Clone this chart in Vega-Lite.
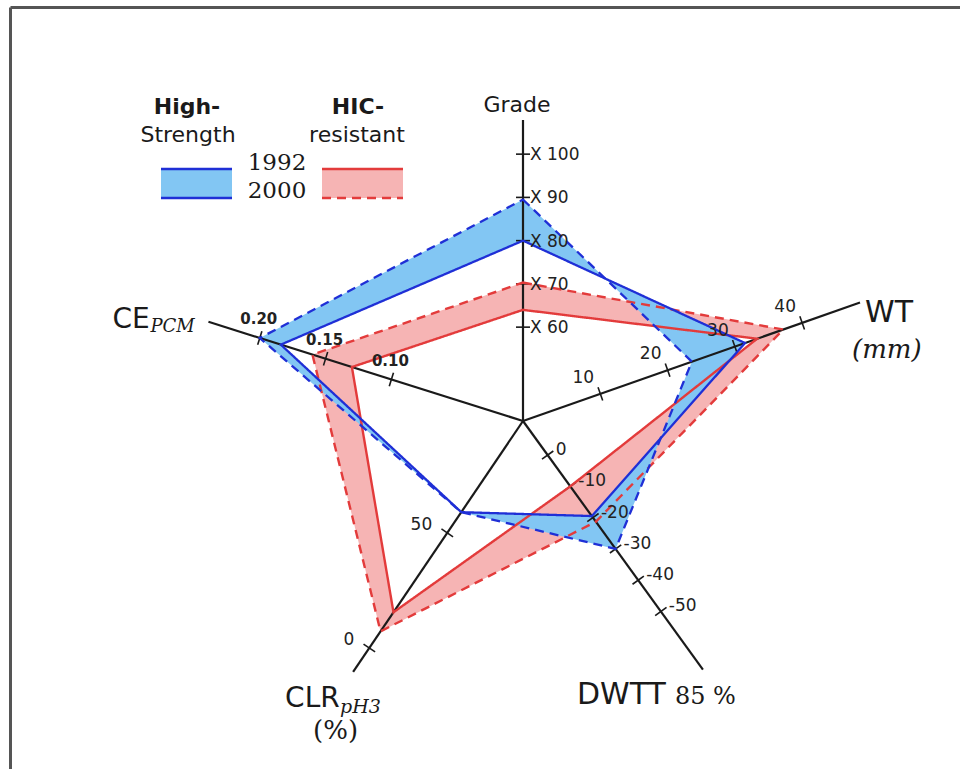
{
  "$schema": "https://vega.github.io/schema/vega-lite/v6.json",
  "width": 950,
  "height": 762,
  "autosize": {"type": "none"},
  "padding": {"left": 10, "top": 7, "right": 0, "bottom": 0},
  "background": "white",
  "view": {"stroke": null},
  "config": {"axis": {"domainColor": "#555555", "domainWidth": 3, "ticks": false, "labels": false, "grid": false}},
  "datasets": {
    "axes": [
      {"axis": "Grade", "idx": 0, "angle": 90, "v0": 38.3, "k": 4.325, "vend": 107.9},
      {"axis": "WT", "idx": 1, "angle": 19.36, "v0": -1.5, "k": 7.13, "vend": 48.6},
      {"axis": "DWTT", "idx": 2, "angle": -54.1, "v0": 10.9, "k": -3.86, "vend": -68.6},
      {"axis": "CLR", "idx": 3, "angle": -124.1, "v0": 98.6, "k": -2.78, "vend": -10.4},
      {"axis": "CE", "idx": 4, "angle": 162.5, "v0": 0, "k": 1380, "vend": 0.239}
    ],
    "vertices": [
      {"group": "HS", "year": 1992, "axis": "Grade", "value": 80},
      {"group": "HS", "year": 1992, "axis": "WT", "value": 31.5},
      {"group": "HS", "year": 1992, "axis": "DWTT", "value": -19.5},
      {"group": "HS", "year": 1992, "axis": "CLR", "value": 59},
      {"group": "HS", "year": 1992, "axis": "CE", "value": 0.184},
      {"group": "HS", "year": 2000, "axis": "Grade", "value": 89.5},
      {"group": "HS", "year": 2000, "axis": "WT", "value": 23.6},
      {"group": "HS", "year": 2000, "axis": "DWTT", "value": -30},
      {"group": "HS", "year": 2000, "axis": "CLR", "value": 59},
      {"group": "HS", "year": 2000, "axis": "CE", "value": 0.2},
      {"group": "HIC", "year": 1992, "axis": "Grade", "value": 64},
      {"group": "HIC", "year": 1992, "axis": "WT", "value": 33.3},
      {"group": "HIC", "year": 1992, "axis": "DWTT", "value": -10},
      {"group": "HIC", "year": 1992, "axis": "CLR", "value": 15.5},
      {"group": "HIC", "year": 1992, "axis": "CE", "value": 0.13},
      {"group": "HIC", "year": 2000, "axis": "Grade", "value": 70.3},
      {"group": "HIC", "year": 2000, "axis": "WT", "value": 37.2},
      {"group": "HIC", "year": 2000, "axis": "DWTT", "value": -21.3},
      {"group": "HIC", "year": 2000, "axis": "CLR", "value": 7.2},
      {"group": "HIC", "year": 2000, "axis": "CE", "value": 0.16}
    ],
    "ticks": [
      {"axis": "Grade", "value": 60, "label": "X 60"},
      {"axis": "Grade", "value": 70, "label": "X 70"},
      {"axis": "Grade", "value": 80, "label": "X 80"},
      {"axis": "Grade", "value": 90, "label": "X 90"},
      {"axis": "Grade", "value": 100, "label": "X 100"},
      {"axis": "WT", "value": 10, "label": "10"},
      {"axis": "WT", "value": 20, "label": "20"},
      {"axis": "WT", "value": 30, "label": "30"},
      {"axis": "WT", "value": 40, "label": "40"},
      {"axis": "DWTT", "value": 0, "label": "0"},
      {"axis": "DWTT", "value": -10, "label": "-10"},
      {"axis": "DWTT", "value": -20, "label": "-20"},
      {"axis": "DWTT", "value": -30, "label": "-30"},
      {"axis": "DWTT", "value": -40, "label": "-40"},
      {"axis": "DWTT", "value": -50, "label": "-50"},
      {"axis": "CLR", "value": 0, "label": "0"},
      {"axis": "CLR", "value": 50, "label": "50"},
      {"axis": "CE", "value": 0.1, "label": "0.10"},
      {"axis": "CE", "value": 0.15, "label": "0.15"},
      {"axis": "CE", "value": 0.2, "label": "0.20"}
    ]
  },
  "layer": [
    {
      "data": {"name": "vertices"},
      "transform": [
        {"lookup": "axis", "from": {"data": {"name": "axes"}, "key": "axis", "fields": ["idx", "angle", "v0", "k"]}},
        {"calculate": "(datum.value - datum.v0) * datum.k", "as": "r"},
        {"calculate": "datum.r * cos(datum.angle * PI / 180)", "as": "x"},
        {"calculate": "datum.r * sin(datum.angle * PI / 180)", "as": "y"},
        {"calculate": "[0, 1]", "as": "qp"},
        {"flatten": ["qp"]},
        {"calculate": "(datum.idx - datum.qp + 5) % 5", "as": "edge"},
        {"calculate": "datum.year == 1992 ? (datum.qp == 0 ? 1 : 2) : (datum.qp == 0 ? 4 : 3)", "as": "ord"},
        {"filter": "datum.group == 'HIC'"}
      ],
      "mark": {"type": "line", "interpolate": "linear-closed", "fill": "#f6b4b4", "strokeWidth": 0, "strokeOpacity": 0},
      "encoding": {
        "x": {"field": "x", "type": "quantitative", "scale": {"domain": [-513, 437], "nice": false, "zero": false}, "axis": {"orient": "top", "title": null}},
        "y": {"field": "y", "type": "quantitative", "scale": {"domain": [-348, 414], "nice": false, "zero": false}, "axis": {"title": null}},
        "detail": {"field": "edge"},
        "order": {"field": "ord", "type": "quantitative"}
      }
    },
    {
      "data": {"name": "vertices"},
      "transform": [
        {"lookup": "axis", "from": {"data": {"name": "axes"}, "key": "axis", "fields": ["idx", "angle", "v0", "k"]}},
        {"calculate": "(datum.value - datum.v0) * datum.k", "as": "r"},
        {"calculate": "datum.r * cos(datum.angle * PI / 180)", "as": "x"},
        {"calculate": "datum.r * sin(datum.angle * PI / 180)", "as": "y"},
        {"calculate": "[0, 1]", "as": "qp"},
        {"flatten": ["qp"]},
        {"calculate": "(datum.idx - datum.qp + 5) % 5", "as": "edge"},
        {"calculate": "datum.year == 1992 ? (datum.qp == 0 ? 1 : 2) : (datum.qp == 0 ? 4 : 3)", "as": "ord"},
        {"filter": "datum.group == 'HS'"}
      ],
      "mark": {"type": "line", "interpolate": "linear-closed", "fill": "#82c6f3", "strokeWidth": 0, "strokeOpacity": 0},
      "encoding": {
        "x": {"field": "x", "type": "quantitative", "scale": {"domain": [-513, 437], "nice": false, "zero": false}, "axis": {"orient": "top", "title": null}},
        "y": {"field": "y", "type": "quantitative", "scale": {"domain": [-348, 414], "nice": false, "zero": false}, "axis": {"title": null}},
        "detail": {"field": "edge"},
        "order": {"field": "ord", "type": "quantitative"}
      }
    },
    {
      "data": {"name": "axes"},
      "transform": [
        {"calculate": "(datum.vend - datum.v0) * datum.k", "as": "r"},
        {"calculate": "datum.r * cos(datum.angle * PI / 180)", "as": "x2"},
        {"calculate": "datum.r * sin(datum.angle * PI / 180)", "as": "y2"},
        {"calculate": "0", "as": "x"},
        {"calculate": "0", "as": "y"}
      ],
      "mark": {"type": "rule", "color": "#1a1a1a", "strokeWidth": 2.2},
      "encoding": {
        "x": {"field": "x", "type": "quantitative", "scale": {"domain": [-513, 437], "nice": false, "zero": false}, "axis": {"orient": "top", "title": null}},
        "y": {"field": "y", "type": "quantitative", "scale": {"domain": [-348, 414], "nice": false, "zero": false}, "axis": {"title": null}},
        "x2": {"field": "x2"},
        "y2": {"field": "y2"}
      }
    },
    {
      "data": {"name": "ticks"},
      "transform": [
        {"lookup": "axis", "from": {"data": {"name": "axes"}, "key": "axis", "fields": ["angle", "v0", "k"]}},
        {"calculate": "(datum.value - datum.v0) * datum.k", "as": "r"},
        {"calculate": "datum.angle * PI / 180", "as": "a"},
        {"calculate": "datum.r * cos(datum.a) - 7 * sin(datum.a)", "as": "x"},
        {"calculate": "datum.r * sin(datum.a) + 7 * cos(datum.a)", "as": "y"},
        {"calculate": "datum.r * cos(datum.a) + 7 * sin(datum.a)", "as": "x2"},
        {"calculate": "datum.r * sin(datum.a) - 7 * cos(datum.a)", "as": "y2"}
      ],
      "mark": {"type": "rule", "color": "#1a1a1a", "strokeWidth": 1.6},
      "encoding": {
        "x": {"field": "x", "type": "quantitative", "scale": {"domain": [-513, 437], "nice": false, "zero": false}, "axis": {"orient": "top", "title": null}},
        "y": {"field": "y", "type": "quantitative", "scale": {"domain": [-348, 414], "nice": false, "zero": false}, "axis": {"title": null}},
        "x2": {"field": "x2"},
        "y2": {"field": "y2"}
      }
    },
    {
      "data": {"name": "vertices"},
      "transform": [
        {"lookup": "axis", "from": {"data": {"name": "axes"}, "key": "axis", "fields": ["idx", "angle", "v0", "k"]}},
        {"calculate": "(datum.value - datum.v0) * datum.k", "as": "r"},
        {"calculate": "datum.r * cos(datum.angle * PI / 180)", "as": "x"},
        {"calculate": "datum.r * sin(datum.angle * PI / 180)", "as": "y"},
        {"filter": "datum.group == 'HIC'"}
      ],
      "mark": {"type": "line", "interpolate": "linear-closed", "color": "#e33b3b", "strokeWidth": 2.4},
      "encoding": {
        "x": {"field": "x", "type": "quantitative", "scale": {"domain": [-513, 437], "nice": false, "zero": false}, "axis": {"orient": "top", "title": null}},
        "y": {"field": "y", "type": "quantitative", "scale": {"domain": [-348, 414], "nice": false, "zero": false}, "axis": {"title": null}},
        "detail": {"field": "year"},
        "order": {"field": "idx", "type": "quantitative"},
        "strokeDash": {"field": "year", "type": "nominal", "scale": {"domain": [1992, 2000], "range": [[1, 0], [9, 6]]}, "legend": null}
      }
    },
    {
      "data": {"name": "vertices"},
      "transform": [
        {"lookup": "axis", "from": {"data": {"name": "axes"}, "key": "axis", "fields": ["idx", "angle", "v0", "k"]}},
        {"calculate": "(datum.value - datum.v0) * datum.k", "as": "r"},
        {"calculate": "datum.r * cos(datum.angle * PI / 180)", "as": "x"},
        {"calculate": "datum.r * sin(datum.angle * PI / 180)", "as": "y"},
        {"filter": "datum.group == 'HS'"}
      ],
      "mark": {"type": "line", "interpolate": "linear-closed", "color": "#1f2fd6", "strokeWidth": 2.3},
      "encoding": {
        "x": {"field": "x", "type": "quantitative", "scale": {"domain": [-513, 437], "nice": false, "zero": false}, "axis": {"orient": "top", "title": null}},
        "y": {"field": "y", "type": "quantitative", "scale": {"domain": [-348, 414], "nice": false, "zero": false}, "axis": {"title": null}},
        "detail": {"field": "year"},
        "order": {"field": "idx", "type": "quantitative"},
        "strokeDash": {"field": "year", "type": "nominal", "scale": {"domain": [1992, 2000], "range": [[1, 0], [1.5, 1.8]]}, "legend": null}
      }
    },
    {
      "data": {"name": "ticks"},
      "transform": [
        {"filter": "datum.axis == 'Grade'"},
        {"lookup": "axis", "from": {"data": {"name": "axes"}, "key": "axis", "fields": ["angle", "v0", "k"]}},
        {"calculate": "(datum.value - datum.v0) * datum.k", "as": "r"},
        {"calculate": "datum.r * cos(datum.angle * PI / 180)", "as": "x"},
        {"calculate": "datum.r * sin(datum.angle * PI / 180)", "as": "y"}
      ],
      "mark": {"type": "text", "align": "left", "baseline": "middle", "dx": 7, "dy": 1, "font": "DejaVu Sans", "fontSize": 17, "color": "#222222"},
      "encoding": {
        "x": {"field": "x", "type": "quantitative", "scale": {"domain": [-513, 437], "nice": false, "zero": false}, "axis": {"orient": "top", "title": null}},
        "y": {"field": "y", "type": "quantitative", "scale": {"domain": [-348, 414], "nice": false, "zero": false}, "axis": {"title": null}},
        "text": {"field": "label"}
      }
    },
    {
      "data": {"name": "ticks"},
      "transform": [
        {"filter": "datum.axis == 'WT'"},
        {"lookup": "axis", "from": {"data": {"name": "axes"}, "key": "axis", "fields": ["angle", "v0", "k"]}},
        {"calculate": "(datum.value - datum.v0) * datum.k", "as": "r"},
        {"calculate": "datum.r * cos(datum.angle * PI / 180)", "as": "x"},
        {"calculate": "datum.r * sin(datum.angle * PI / 180)", "as": "y"}
      ],
      "mark": {"type": "text", "align": "center", "baseline": "middle", "dx": -17, "dy": -16, "font": "DejaVu Sans", "fontSize": 17, "color": "#222222"},
      "encoding": {
        "x": {"field": "x", "type": "quantitative", "scale": {"domain": [-513, 437], "nice": false, "zero": false}, "axis": {"orient": "top", "title": null}},
        "y": {"field": "y", "type": "quantitative", "scale": {"domain": [-348, 414], "nice": false, "zero": false}, "axis": {"title": null}},
        "text": {"field": "label"}
      }
    },
    {
      "data": {"name": "ticks"},
      "transform": [
        {"filter": "datum.axis == 'DWTT'"},
        {"lookup": "axis", "from": {"data": {"name": "axes"}, "key": "axis", "fields": ["angle", "v0", "k"]}},
        {"calculate": "(datum.value - datum.v0) * datum.k", "as": "r"},
        {"calculate": "datum.r * cos(datum.angle * PI / 180)", "as": "x"},
        {"calculate": "datum.r * sin(datum.angle * PI / 180)", "as": "y"}
      ],
      "mark": {"type": "text", "align": "left", "baseline": "middle", "dx": 8, "dy": -5, "font": "DejaVu Sans", "fontSize": 17, "color": "#222222"},
      "encoding": {
        "x": {"field": "x", "type": "quantitative", "scale": {"domain": [-513, 437], "nice": false, "zero": false}, "axis": {"orient": "top", "title": null}},
        "y": {"field": "y", "type": "quantitative", "scale": {"domain": [-348, 414], "nice": false, "zero": false}, "axis": {"title": null}},
        "text": {"field": "label"}
      }
    },
    {
      "data": {"name": "ticks"},
      "transform": [
        {"filter": "datum.axis == 'CLR'"},
        {"lookup": "axis", "from": {"data": {"name": "axes"}, "key": "axis", "fields": ["angle", "v0", "k"]}},
        {"calculate": "(datum.value - datum.v0) * datum.k", "as": "r"},
        {"calculate": "datum.r * cos(datum.angle * PI / 180)", "as": "x"},
        {"calculate": "datum.r * sin(datum.angle * PI / 180)", "as": "y"}
      ],
      "mark": {"type": "text", "align": "right", "baseline": "middle", "dx": -15, "dy": -8, "font": "DejaVu Sans", "fontSize": 17, "color": "#222222"},
      "encoding": {
        "x": {"field": "x", "type": "quantitative", "scale": {"domain": [-513, 437], "nice": false, "zero": false}, "axis": {"orient": "top", "title": null}},
        "y": {"field": "y", "type": "quantitative", "scale": {"domain": [-348, 414], "nice": false, "zero": false}, "axis": {"title": null}},
        "text": {"field": "label"}
      }
    },
    {
      "data": {"name": "ticks"},
      "transform": [
        {"filter": "datum.axis == 'CE'"},
        {"lookup": "axis", "from": {"data": {"name": "axes"}, "key": "axis", "fields": ["angle", "v0", "k"]}},
        {"calculate": "(datum.value - datum.v0) * datum.k", "as": "r"},
        {"calculate": "datum.r * cos(datum.angle * PI / 180)", "as": "x"},
        {"calculate": "datum.r * sin(datum.angle * PI / 180)", "as": "y"}
      ],
      "mark": {"type": "text", "align": "center", "baseline": "middle", "dx": -1, "dy": -19, "font": "DejaVu Sans", "fontSize": 15, "fontWeight": "bold", "color": "#222222"},
      "encoding": {
        "x": {"field": "x", "type": "quantitative", "scale": {"domain": [-513, 437], "nice": false, "zero": false}, "axis": {"orient": "top", "title": null}},
        "y": {"field": "y", "type": "quantitative", "scale": {"domain": [-348, 414], "nice": false, "zero": false}, "axis": {"title": null}},
        "text": {"field": "label"}
      }
    },
    {
      "data": {"name": "axes"},
      "transform": [
        {"calculate": "(datum.vend - datum.v0) * datum.k", "as": "r"},
        {"calculate": "datum.r * cos(datum.angle * PI / 180)", "as": "x"},
        {"calculate": "datum.r * sin(datum.angle * PI / 180)", "as": "y"}
      ],
      "layer": [
        {
          "transform": [{"filter": "datum.axis == 'Grade'"}],
          "mark": {"type": "text", "align": "center", "baseline": "middle", "dx": -6, "dy": -15, "font": "DejaVu Sans", "fontSize": 22, "color": "#1a1a1a"},
          "encoding": {"text": {"field": "axis"}}
        },
        {
          "transform": [{"filter": "datum.axis == 'WT'"}],
          "mark": {"type": "text", "align": "left", "baseline": "middle", "dx": 5, "dy": 10, "font": "DejaVu Sans", "fontSize": 30, "color": "#1a1a1a"},
          "encoding": {"text": {"field": "axis"}}
        },
        {
          "transform": [{"filter": "datum.axis == 'WT'"}],
          "mark": {"type": "text", "align": "left", "baseline": "middle", "dx": -8, "dy": 47, "font": "DejaVu Serif", "fontStyle": "italic", "fontSize": 26, "color": "#1a1a1a", "text": "(mm)"},
          "encoding": {}
        },
        {
          "transform": [{"filter": "datum.axis == 'DWTT'"}],
          "mark": {"type": "text", "align": "left", "baseline": "middle", "dx": -126, "dy": 25, "font": "DejaVu Sans", "fontSize": 30, "color": "#1a1a1a"},
          "encoding": {"text": {"field": "axis"}}
        },
        {
          "transform": [{"filter": "datum.axis == 'DWTT'"}],
          "mark": {"type": "text", "align": "left", "baseline": "middle", "dx": -28, "dy": 27, "font": "DejaVu Serif", "fontSize": 24, "color": "#1a1a1a", "text": "85 %"},
          "encoding": {}
        },
        {
          "transform": [{"filter": "datum.axis == 'CLR'"}],
          "mark": {"type": "text", "align": "left", "baseline": "middle", "dx": -68, "dy": 27, "font": "DejaVu Sans", "fontSize": 28, "color": "#1a1a1a"},
          "encoding": {"text": {"field": "axis"}}
        },
        {
          "transform": [{"filter": "datum.axis == 'CLR'"}],
          "mark": {"type": "text", "align": "left", "baseline": "middle", "dx": -13, "dy": 35, "font": "DejaVu Serif", "fontStyle": "italic", "fontSize": 19, "color": "#1a1a1a", "text": "pH3"},
          "encoding": {}
        },
        {
          "transform": [{"filter": "datum.axis == 'CLR'"}],
          "mark": {"type": "text", "align": "left", "baseline": "middle", "dx": -40, "dy": 59, "font": "DejaVu Serif", "fontSize": 26, "color": "#1a1a1a", "text": "(%)"},
          "encoding": {}
        },
        {
          "transform": [{"filter": "datum.axis == 'CE'"}],
          "mark": {"type": "text", "align": "left", "baseline": "middle", "dx": -96, "dy": -2, "font": "DejaVu Sans", "fontSize": 28, "color": "#1a1a1a"},
          "encoding": {"text": {"field": "axis"}}
        },
        {
          "transform": [{"filter": "datum.axis == 'CE'"}],
          "mark": {"type": "text", "align": "left", "baseline": "middle", "dx": -58, "dy": 5, "font": "DejaVu Serif", "fontStyle": "italic", "fontSize": 18, "color": "#1a1a1a", "text": "PCM"},
          "encoding": {}
        }
      ],
      "encoding": {
        "x": {"field": "x", "type": "quantitative", "scale": {"domain": [-513, 437], "nice": false, "zero": false}, "axis": {"orient": "top", "title": null}},
        "y": {"field": "y", "type": "quantitative", "scale": {"domain": [-348, 414], "nice": false, "zero": false}, "axis": {"title": null}}
      }
    },
    {
      "data": {"values": [{"group": "HS", "x": -362, "x2": -291}, {"group": "HIC", "x": -201, "x2": -120}]},
      "layer": [
        {
          "mark": {"type": "rect"},
          "encoding": {
            "y": {"datum": 252, "type": "quantitative", "scale": {"domain": [-348, 414], "nice": false, "zero": false}, "axis": {"title": null}},
            "y2": {"datum": 223},
            "x2": {"field": "x2"},
            "color": {"field": "group", "type": "nominal", "scale": {"domain": ["HS", "HIC"], "range": ["#82c6f3", "#f6b4b4"]}, "legend": null}
          }
        },
        {
          "mark": {"type": "rule", "strokeWidth": 2.4},
          "encoding": {
            "y": {"datum": 252, "type": "quantitative", "scale": {"domain": [-348, 414], "nice": false, "zero": false}, "axis": {"title": null}},
            "x2": {"field": "x2"},
            "color": {"field": "group", "type": "nominal", "scale": {"domain": ["HS", "HIC"], "range": ["#1f2fd6", "#e33b3b"]}, "legend": null}
          }
        },
        {
          "mark": {"type": "rule", "strokeWidth": 2.3},
          "encoding": {
            "y": {"datum": 223, "type": "quantitative", "scale": {"domain": [-348, 414], "nice": false, "zero": false}, "axis": {"title": null}},
            "x2": {"field": "x2"},
            "color": {"field": "group", "type": "nominal", "scale": {"domain": ["HS", "HIC"], "range": ["#1f2fd6", "#e33b3b"]}, "legend": null},
            "strokeDash": {"field": "group", "type": "nominal", "scale": {"domain": ["HS", "HIC"], "range": [[1.5, 1.8], [9, 6]]}, "legend": null}
          }
        }
      ],
      "encoding": {
        "x": {"field": "x", "type": "quantitative", "scale": {"domain": [-513, 437], "nice": false, "zero": false}, "axis": {"orient": "top", "title": null}}
      },
      "resolve": {"scale": {"color": "independent"}}
    },
    {
      "data": {"values": [
        {"t": "High-", "x": -336, "y": 307},
        {"t": "HIC-", "x": -165, "y": 307}
      ]},
      "mark": {"type": "text", "align": "center", "baseline": "alphabetic", "font": "DejaVu Sans", "fontSize": 22, "fontWeight": "bold", "color": "#1a1a1a"},
      "encoding": {
        "x": {"field": "x", "type": "quantitative", "scale": {"domain": [-513, 437], "nice": false, "zero": false}, "axis": {"orient": "top", "title": null}},
        "y": {"field": "y", "type": "quantitative", "scale": {"domain": [-348, 414], "nice": false, "zero": false}, "axis": {"title": null}},
        "text": {"field": "t"}
      }
    },
    {
      "data": {"values": [
        {"t": "Strength", "x": -335, "y": 279},
        {"t": "resistant", "x": -166, "y": 279}
      ]},
      "mark": {"type": "text", "align": "center", "baseline": "alphabetic", "font": "DejaVu Sans", "fontSize": 22, "color": "#1a1a1a"},
      "encoding": {
        "x": {"field": "x", "type": "quantitative", "scale": {"domain": [-513, 437], "nice": false, "zero": false}, "axis": {"orient": "top", "title": null}},
        "y": {"field": "y", "type": "quantitative", "scale": {"domain": [-348, 414], "nice": false, "zero": false}, "axis": {"title": null}},
        "text": {"field": "t"}
      }
    },
    {
      "data": {"values": [{"t": "1992", "x": -246, "y": 251}, {"t": "2000", "x": -246, "y": 223}]},
      "mark": {"type": "text", "align": "center", "baseline": "alphabetic", "font": "DejaVu Serif", "fontSize": 23, "color": "#1a1a1a"},
      "encoding": {
        "x": {"field": "x", "type": "quantitative", "scale": {"domain": [-513, 437], "nice": false, "zero": false}, "axis": {"orient": "top", "title": null}},
        "y": {"field": "y", "type": "quantitative", "scale": {"domain": [-348, 414], "nice": false, "zero": false}, "axis": {"title": null}},
        "text": {"field": "t"}
      }
    }
  ]
}
